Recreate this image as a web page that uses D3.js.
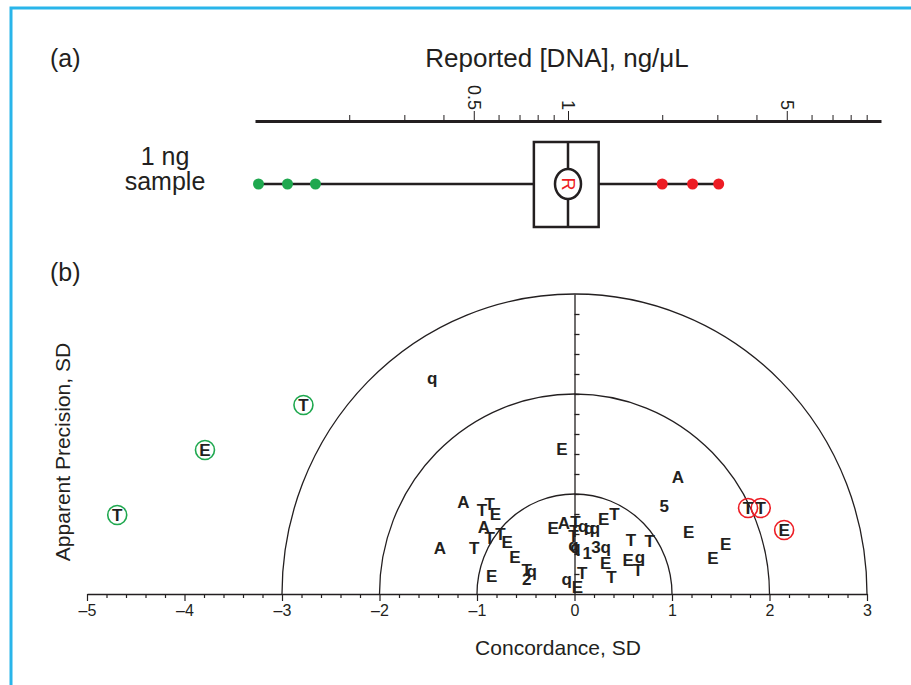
<!DOCTYPE html>
<html>
<head>
<meta charset="utf-8">
<script src="https://cdn.jsdelivr.net/npm/d3@7"></script>
<style>
  body { margin: 0; background: #fff; }
  text { font-family: "Liberation Sans", Arial, sans-serif; fill: #231f20; }
</style>
</head>
<body>
<div id="chart"></div>
<script>
// panel (a): reported concentration, ng/uL
var lowOutliers = [0.1026, 0.127, 0.156];
var highOutliers = [2.0, 2.5, 3.03];
var boxStats = {q1: 0.778, median: 1.0, q3: 1.253};
var logTicks = [0.2, 0.3, 0.4, 0.5, 0.6, 0.7, 0.8, 0.9, 1, 2, 3, 4, 5, 6, 7, 8, 9];
var logLabels = [0.5, 1, 5];

// panel (b): each lab's code, concordance and apparent precision (SD)
var labCodes = ["q","E","A","5","E","E","E","A","T","T","E","A","T","T","E","A","T","E","E","T","q","2",
  "E","A","T","q","q","q","E","T","T","T","q","q","1","3","q","E","T","T","T","E","q","T","q","E","T",
  "T","T","E","T","E","T"];
var concordance = [-1.46,-0.13,1.06,0.92,1.17,1.55,1.42,-1.14,-0.95,-0.87,-0.81,-0.93,-0.87,-0.76,-0.69,-1.38,-1.03,-0.61,-0.85,-0.49,-0.44,-0.49,
  -0.22,-0.11,0.01,0.09,0.15,0.21,0.30,0.41,0.0,-0.01,-0.01,0.01,0.13,0.22,0.32,0.32,0.38,0.58,0.77,0.55,0.67,0.65,-0.08,0.03,0.08,
  1.78,1.91,2.15,-2.78,-3.79,-4.69];
var precision = [2.16,1.45,1.17,0.88,0.62,0.50,0.36,0.92,0.84,0.90,0.80,0.67,0.56,0.60,0.52,0.46,0.46,0.37,0.18,0.24,0.23,0.15,
  0.66,0.71,0.72,0.68,0.66,0.66,0.75,0.80,0.63,0.58,0.49,0.47,0.41,0.47,0.47,0.31,0.17,0.54,0.53,0.34,0.37,0.24,0.15,0.07,0.21,
  0.86,0.86,0.64,1.89,1.44,0.79];
// 0 = normal, 1 = high (red ring), -1 = low (green ring)
var flags = [0,0,0,0,0,0,0,0,0,0,0,0,0,0,0,0,0,0,0,0,0,0,
  0,0,0,0,0,0,0,0,0,0,0,0,0,0,0,0,0,0,0,0,0,0,0,0,0,
  1,1,1,-1,-1,-1];
var sdTicks = d3.range(-5, 3.001, 0.2).map(function(d){ return Math.round(d*10)/10; });
var precTicks = d3.range(0.2, 2.801, 0.2).map(function(d){ return Math.round(d*10)/10; });
var rings = [1, 2, 3];

var width = 911, height = 685;
var green = "#1fa84f", red = "#ed1c24", ink = "#231f20";

var svg = d3.select("#chart").append("svg")
  .attr("width", width).attr("height", height);

//Frame
svg.append("path")
  .attr("d", "M11," + height + "V8H" + width)
  .attr("fill", "none")
  .attr("stroke", "#29b5ea")
  .attr("stroke-width", 3);

//Panel (a)
svg.append("text").attr("x", 50).attr("y", 67).attr("font-size", 25).text("(a)");
svg.append("text").attr("x", 557).attr("y", 67).attr("font-size", 26)
  .attr("text-anchor", "middle").text("Reported [DNA], ng/\u03bcL");

var xLog = d3.scaleLog().domain([0.1, 10]).range([255, 881]);
var axisY = 121;

var topAxis = svg.append("g")
  .attr("transform", "translate(0," + axisY + ")")
  .call(d3.axisTop(xLog).tickValues(logTicks).tickSize(6).tickSizeOuter(0)
    .tickFormat(function(d){ return logLabels.indexOf(d) >= 0 ? d : ""; }));
topAxis.select(".domain").attr("stroke", ink).attr("stroke-width", 3);
topAxis.selectAll(".tick line").attr("stroke", ink).attr("stroke-width", 1)
  .attr("y2", function(d){ return logLabels.indexOf(d) >= 0 ? -10 : -6; });
topAxis.selectAll(".tick text")
  .attr("fill", ink)
  .attr("font-size", 18)
  .attr("font-family", "Liberation Sans, Arial, sans-serif")
  .attr("text-anchor", "end")
  .attr("dy", "0.35em")
  .attr("y", 0)
  .attr("transform", "translate(0,-11) rotate(90)");

svg.append("text").attr("x", 165).attr("y", 165).attr("font-size", 25)
  .attr("text-anchor", "middle").text("1 ng");
svg.append("text").attr("x", 165).attr("y", 190).attr("font-size", 25)
  .attr("text-anchor", "middle").text("sample");

var boxTop = 142, boxBottom = 227, midY = 184;
var allVals = lowOutliers.concat(highOutliers);
svg.append("line")
  .attr("x1", xLog(d3.min(allVals))).attr("x2", xLog(d3.max(allVals)))
  .attr("y1", midY).attr("y2", midY)
  .attr("stroke", ink).attr("stroke-width", 2.5);
svg.append("rect")
  .attr("x", xLog(boxStats.q1)).attr("y", boxTop)
  .attr("width", xLog(boxStats.q3) - xLog(boxStats.q1))
  .attr("height", boxBottom - boxTop)
  .attr("fill", "#fff").attr("stroke", ink).attr("stroke-width", 2.5);
svg.append("line")
  .attr("x1", xLog(boxStats.median)).attr("x2", xLog(boxStats.median))
  .attr("y1", boxTop).attr("y2", boxBottom)
  .attr("stroke", ink).attr("stroke-width", 2.5);
svg.append("ellipse")
  .attr("cx", xLog(boxStats.median)).attr("cy", midY)
  .attr("rx", 13).attr("ry", 15)
  .attr("fill", "#fff").attr("stroke", ink).attr("stroke-width", 2.5);
svg.append("text")
  .attr("transform", "translate(" + xLog(boxStats.median) + "," + midY + ") rotate(90)")
  .attr("text-anchor", "middle").attr("dy", "0.35em")
  .attr("font-size", 18).style("fill", red).text("R");

svg.selectAll(".lowdot").data(lowOutliers).enter().append("circle")
  .attr("class", "lowdot")
  .attr("cx", function(d){ return xLog(d); }).attr("cy", midY).attr("r", 5.5)
  .attr("fill", green);
svg.selectAll(".highdot").data(highOutliers).enter().append("circle")
  .attr("class", "highdot")
  .attr("cx", function(d){ return xLog(d); }).attr("cy", midY).attr("r", 5.5)
  .attr("fill", red);

//Panel (b)
svg.append("text").attr("x", 50).attr("y", 281).attr("font-size", 25).text("(b)");

var x = d3.scaleLinear().domain([-5, 3]).range([87, 867]);
var y = d3.scaleLinear().domain([0, 3]).range([594, 294]);

var bottomAxis = svg.append("g")
  .attr("transform", "translate(0," + y(0) + ")")
  .call(d3.axisBottom(x).tickValues(sdTicks).tickSize(4).tickSizeOuter(0)
    .tickFormat(function(d){ return Number.isInteger(d) ? (d < 0 ? "\u2013" + (-d) : d) : ""; }));
bottomAxis.select(".domain").attr("stroke", ink).attr("stroke-width", 1.6);
bottomAxis.selectAll(".tick line").attr("stroke", ink).attr("stroke-width", 1.2)
  .attr("y2", function(d){ return Number.isInteger(d) ? 7 : 4; });
bottomAxis.selectAll(".tick text")
  .attr("fill", ink).attr("font-size", 16)
  .attr("font-family", "Liberation Sans, Arial, sans-serif")
  .attr("y", 11);

var vAxis = svg.append("g")
  .attr("transform", "translate(" + x(0) + ",0)")
  .call(d3.axisRight(y).tickValues(precTicks).tickSize(5).tickSizeOuter(0).tickFormat(""));
vAxis.select(".domain").attr("stroke", ink).attr("stroke-width", 1.3);
vAxis.selectAll(".tick line").attr("stroke", ink).attr("stroke-width", 1.3);

svg.selectAll(".ring").data(rings).enter().append("path")
  .attr("class", "ring")
  .attr("d", function(r){
    var rx = x(r) - x(0), ry = y(0) - y(r);
    return "M" + x(-r) + "," + y(0) + "A" + rx + "," + ry + " 0 0 1 " + x(r) + "," + y(0);
  })
  .attr("fill", "none").attr("stroke", ink).attr("stroke-width", 1.3);

var pts = labCodes.map(function(c, i){
  return {code: c, c: concordance[i], p: precision[i], flag: flags[i]};
});

svg.selectAll(".ringmark").data(pts.filter(function(d){ return d.flag !== 0; }))
  .enter().append("circle")
  .attr("class", "ringmark")
  .attr("cx", function(d){ return x(d.c); })
  .attr("cy", function(d){ return y(d.p); })
  .attr("r", 9.5)
  .attr("fill", "none")
  .attr("stroke", function(d){ return d.flag > 0 ? red : green; })
  .attr("stroke-width", 1.6);

svg.selectAll(".lab").data(pts).enter().append("text")
  .attr("class", "lab")
  .attr("x", function(d){ return x(d.c); })
  .attr("y", function(d){ return y(d.p); })
  .attr("dy", "0.36em")
  .attr("text-anchor", "middle")
  .attr("font-size", 17)
  .attr("font-weight", "bold")
  .text(function(d){ return d.code; });

svg.append("text").attr("x", 558).attr("y", 655).attr("font-size", 21)
  .attr("text-anchor", "middle").text("Concordance, SD");
svg.append("text")
  .attr("transform", "translate(70,452) rotate(-90)")
  .attr("font-size", 21).attr("text-anchor", "middle")
  .text("Apparent Precision, SD");
</script>
</body>
</html>
